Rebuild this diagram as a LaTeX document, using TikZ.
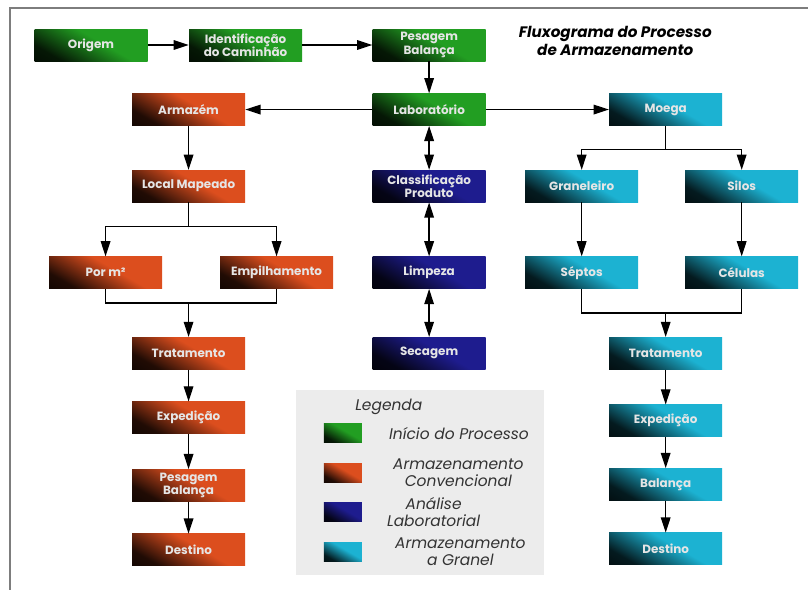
\documentclass[tikz,border=0pt]{standalone}
\usepackage{fontspec}
\setmainfont{Poppins}
\usetikzlibrary{arrows.meta,positioning}
\definecolor{iniciogreen}{RGB}{34,158,34}
\definecolor{convorange}{RGB}{220,78,30}
\definecolor{analiseblue}{RGB}{30,28,142}
\definecolor{granelcyan}{RGB}{28,178,210}
\definecolor{legendgrey}{RGB}{236,236,236}
\definecolor{framegrey}{RGB}{125,125,125}

\pgfdeclarehorizontalshading{inicioshade}{100bp}{color(0bp)=(black); color(27bp)=(black!85!iniciogreen); color(56bp)=(iniciogreen); color(100bp)=(iniciogreen)}
\pgfdeclarehorizontalshading{convshade}{100bp}{color(0bp)=(black); color(27bp)=(black!85!convorange); color(56bp)=(convorange); color(100bp)=(convorange)}
\pgfdeclarehorizontalshading{analiseshade}{100bp}{color(0bp)=(black); color(27bp)=(black!85!analiseblue); color(56bp)=(analiseblue); color(100bp)=(analiseblue)}
\pgfdeclarehorizontalshading{granelshade}{100bp}{color(0bp)=(black); color(27bp)=(black!85!granelcyan); color(56bp)=(granelcyan); color(100bp)=(granelcyan)}

\begin{document}
\begin{tikzpicture}[node distance=0.8cm,
  box/.style={shade, shading angle=60, minimum width=2.825cm, minimum height=0.8cm, inner sep=1pt,
    align=center, text=white!90!black, font=\fontsize{8.5}{9.5}\selectfont\bfseries},
  inicio box/.style={box, shading=inicioshade},
  conv box/.style={box, shading=convshade},
  analise box/.style={box, shading=analiseshade},
  granel box/.style={box, shading=granelshade},
  swatch/.style={shade, shading angle=60, minimum width=0.95cm, minimum height=0.475cm, inner sep=0pt},
  legtext/.style={align=center, text=black!80, font=\fontsize{11}{12}\selectfont\itshape},
  flow/.style={-{Triangle[length=0.38cm,width=0.24cm]}, line width=0.9pt},
  both/.style={{Triangle[length=0.38cm,width=0.24cm]}-{Triangle[length=0.38cm,width=0.24cm]}, line width=0.9pt},
  plain/.style={line width=0.9pt}]

\useasboundingbox (0,0) rectangle (20.2,-14.75);
\draw[framegrey, line width=0.8pt] (0.25,-14.75) -- (0.25,-0.2) -- (20.2,-0.2);

% top row
\node[inicio box] (origem) at (2.275,-1.125) {Origem};
\node[inicio box, right=1.025cm of origem] (ident) {Identificação\\do Caminhão};
\node[inicio box, right=1.75cm of ident] (pesagem) {Pesagem\\Balança};
\node[right=0.7cm of pesagem, yshift=0.1cm, align=center, font=\fontsize{10.8}{13}\selectfont\bfseries\itshape] (titulo) {Fluxograma do Processo\\de Armazenamento};

\node[inicio box, below=0.8cm of pesagem] (lab) {Laboratório};
\node[conv box, left=3.175cm of lab] (armazem) {Armazém};
\node[granel box, right=3.075cm of lab] (moega) {Moega};

% lab column
\node[analise box, below=1.1cm of lab] (classif) {Classificação\\Produto};
\node[analise box, below=1.35cm of classif] (limpeza) {Limpeza};
\node[analise box, below=1.2cm of limpeza] (secagem) {Secagem};

% conventional column
\node[conv box, below=1.1cm of armazem] (local) {Local Mapeado};
\node[conv box, below=1.35cm of local, xshift=-2.075cm] (porm) {Por m²};
\node[conv box, below=1.35cm of local, xshift=2.2cm] (empil) {Empilhamento};
\node[conv box] (tratA) at (local |- secagem) {Tratamento};
\node[conv box, below=0.8cm of tratA] (expA) {Expedição};
\node[conv box, below=0.875cm of expA] (pesA) {Pesagem\\Balança};
\node[conv box, below=0.8cm of pesA] (destA) {Destino};

% bulk column
\node[granel box, below=1.1cm of moega, xshift=-2.1cm] (granel) {Graneleiro};
\node[granel box, below=1.1cm of moega, xshift=1.9cm] (silos) {Silos};
\node[granel box, below=1.35cm of granel] (septos) {Séptos};
\node[granel box, below=1.35cm of silos] (celulas) {Células};
\node[granel box] (tratB) at (moega |- secagem) {Tratamento};
\node[granel box, below=0.875cm of tratB] (expB) {Expedição};
\node[granel box, below=0.775cm of expB] (balB) {Balança};
\node[granel box, below=0.8cm of balB] (destB) {Destino};

% legend
\node[fill=legendgrey, minimum width=6.2cm, minimum height=4.625cm, below=0.5cm of secagem, xshift=-0.225cm] (legenda) {};
\node[legtext] (legtitle) at ([shift={(2.325,-0.425)}]legenda.north west) {Legenda};
\node[swatch, shading=inicioshade] (sw1) at ([shift={(1.175,-1.0875)}]legenda.north west) {};
\node[swatch, shading=convshade, below=0.5cm of sw1] (sw2) {};
\node[swatch, shading=analiseshade, below=0.5cm of sw2] (sw3) {};
\node[swatch, shading=granelshade, below=0.5cm of sw3] (sw4) {};
\node[legtext, right=0.55cm of sw1] {Início do Processo};
\node[legtext, right=0.65cm of sw2] {Armazenamento\\Convencional};
\node[legtext, right=0.5cm of sw3] {Análise\\Laboratorial};
\node[legtext, right=0.7cm of sw4] {Armazenamento\\a Granel};

% connectors
\draw[flow] (origem) -- (ident);
\draw[flow] (ident) -- (pesagem);
\draw[flow] (pesagem) -- (lab);
\draw[flow] (lab) -- (armazem);
\draw[flow] (lab) -- (moega);
\draw[both] (lab) -- (classif);
\draw[both] (classif) -- (limpeza);
\draw[both] (limpeza) -- (secagem);

\draw[flow] (armazem) -- (local);
\coordinate[below=0.6cm of local] (splitA);
\draw[flow] (local) -- (splitA) -| (porm);
\draw[flow] (splitA) -| (empil);
\coordinate[below=0.35cm of porm] (mergeA);
\draw[plain] (porm) -- (mergeA) -| (empil);
\draw[flow] (mergeA -| tratA) -- (tratA);
\draw[flow] (tratA) -- (expA);
\draw[flow] (expA) -- (pesA);
\draw[flow] (pesA) -- (destA);

\coordinate[below=0.6cm of moega] (splitB);
\draw[flow] (moega) -- (splitB) -| (granel);
\draw[flow] (splitB) -| (silos);
\draw[flow] (granel) -- (septos);
\draw[flow] (silos) -- (celulas);
\coordinate[below=0.6cm of septos] (mergeB);
\draw[plain] (septos) -- (mergeB) -| (celulas);
\draw[flow] (mergeB -| tratB) -- (tratB);
\draw[flow] (tratB) -- (expB);
\draw[flow] (expB) -- (balB);
\draw[flow] (balB) -- (destB);
\end{tikzpicture}
\end{document}
